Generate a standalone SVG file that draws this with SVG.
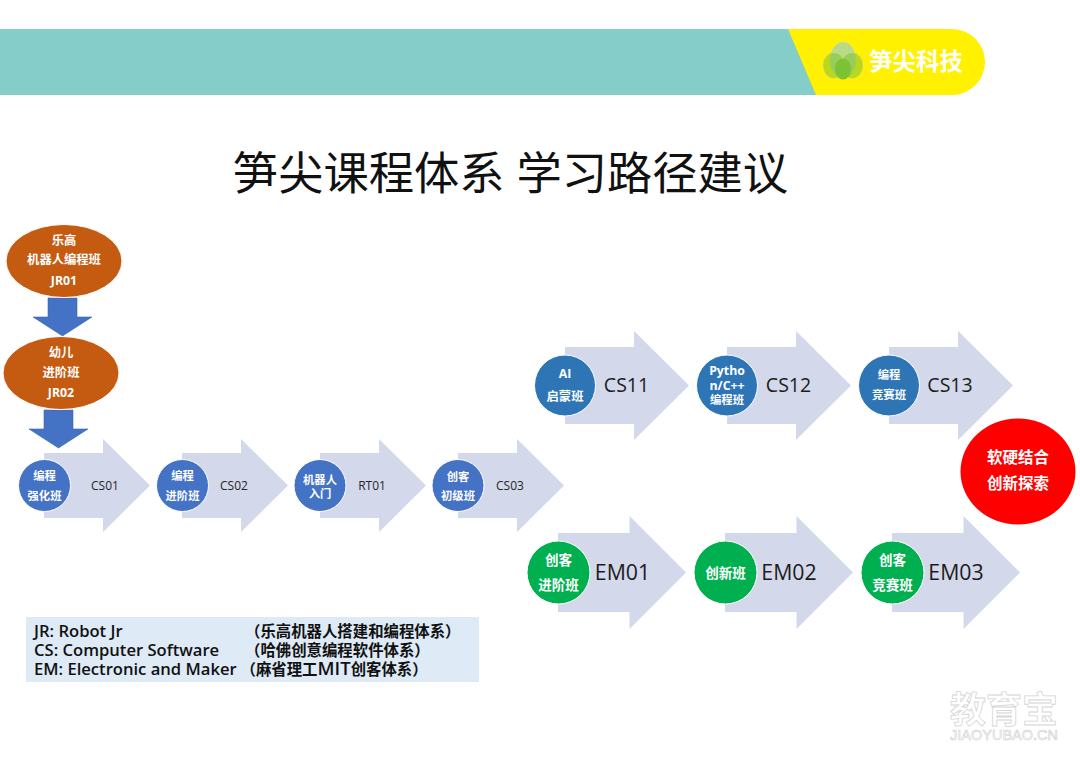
<svg xmlns="http://www.w3.org/2000/svg" width="1080" height="764" viewBox="0 0 1080 764">
<style>
text{font-family:"Open Sans","Noto Sans CJK SC",sans-serif;text-anchor:middle}
.w{fill:#fff;font-weight:700;font-size:12.3px}
.x{fill:#fff;font-weight:700;font-size:11.3px}
.g{fill:#fff;font-weight:700;font-size:13.5px}
.s{fill:#262626;font-size:12px}
.l{fill:#1c1c1c;font-size:19.500px}
.m{fill:#1c1c1c;font-size:21.300px}
.c{stroke:#fff;stroke-width:1}
.a{fill:#D3D8EB}
.r{fill:#fff;font-size:15.500px;font-weight:700}
.leg{fill:#111;font-size:16.600px;font-weight:600;text-anchor:start}
.lz{fill:#111;font-size:15.400px;font-weight:600;text-anchor:start}
</style>
<defs>
<path id="ah" class="a" d="M0-32.500H59V-46.500L106 0 59 46.500V32.500H0Z"/>
<path id="ab" class="a" d="M0-38.500H69V-54.500L124 0 69 54.500V38.500H0Z"/>
<path id="am" class="a" d="M0-39.500H71.500V-56.500L128 0 71.500 56.500V39.500H0Z"/>
<path id="dn" fill="#4472C4" stroke="#3A65B0" stroke-width=".6" d="M-14.500-19H14.500V0H29.500L0 19-29.500 0H-14.500Z"/>
</defs>
<g id="header">
<rect x="0" y="29" width="830" height="66" fill="#85CDC8"/>
<path d="M788 29H952A33 33 0 0 1 952 95H816Z" fill="#FFF100"/>
<ellipse cx="843" cy="60" rx="13" ry="18" fill="#B6DB8A" stroke="#E6D98A" stroke-width=".6"/>
<ellipse cx="834" cy="65.500" rx="11" ry="13" fill="#7CC232" fill-opacity=".55" stroke="#E6D98A" stroke-width=".6"/>
<ellipse cx="852" cy="65.500" rx="11" ry="13" fill="#7CC232" fill-opacity=".55" stroke="#E6D98A" stroke-width=".6"/>
<ellipse cx="843" cy="69" rx="8" ry="10.500" fill="#7CC232"/>
<text x="916" y="70" fill="#fff" style="font-size:23.500px;font-weight:700">笋尖科技</text>
</g>
<text id="title" x="510.500" y="190" fill="#111" style="font-size:45.300px">笋尖课程体系 学习路径建议</text>
<g id="connectors">
<use href="#dn" x="62.500" y="317"/>
<use href="#dn" x="58.500" y="429"/>
</g>
<g id="jr01"><ellipse class="c" cx="64" cy="261" rx="58" ry="36.500" fill="#C55A11"/>
<text class="w" x="64" y="244.500">乐高</text><text class="w" x="64" y="264">机器人编程班</text><text class="w" x="64" y="284.500">JR01</text></g>
<g id="jr02"><ellipse class="c" cx="61" cy="373" rx="58" ry="36.500" fill="#C55A11"/>
<text class="w" x="61" y="356.500">幼儿</text><text class="w" x="61" y="377">进阶班</text><text class="w" x="61" y="397">JR02</text></g>
<g id="cs01"><use href="#ah" x="44" y="485.500"/><circle class="c" cx="44.500" cy="485.500" r="26" fill="#4472C4"/>
<text class="x" x="44.500" y="480">编程</text><text class="x" x="44.500" y="500">强化班</text><text class="s" x="105" y="489.500">CS01</text></g>
<g id="cs02"><use href="#ah" x="182" y="485.500"/><circle class="c" cx="182.500" cy="485.500" r="26" fill="#4472C4"/>
<text class="x" x="182.500" y="480">编程</text><text class="x" x="182.500" y="500">进阶班</text><text class="s" x="234" y="489.500">CS02</text></g>
<g id="rt01"><use href="#ah" x="320" y="485.500"/><circle class="c" cx="320" cy="485.500" r="26" fill="#4472C4"/>
<text class="x" x="320" y="483.500">机器人</text><text class="x" x="320" y="497.500">入门</text><text class="s" x="372" y="489.500">RT01</text></g>
<g id="cs03"><use href="#ah" x="458" y="485.500"/><circle class="c" cx="458" cy="485.500" r="26" fill="#4472C4"/>
<text class="x" x="458" y="481">创客</text><text class="x" x="458" y="500">初级班</text><text class="s" x="510" y="489.500">CS03</text></g>
<g id="cs11"><use href="#ab" x="565" y="385.500"/><circle class="c" cx="565" cy="385.500" r="30.500" fill="#2E75B6"/>
<text class="w" x="565" y="378">AI</text><text class="w" x="565" y="401">启蒙班</text><text class="l" x="626.500" y="392">CS11</text></g>
<g id="cs12"><use href="#ab" x="727" y="385.500"/><circle class="c" cx="727" cy="385.500" r="30.500" fill="#2E75B6"/>
<text class="w" x="727" y="375">Pytho</text><text class="w" x="727" y="390">n/C++</text><text class="x" x="727" y="404">编程班</text><text class="l" x="788.500" y="392">CS12</text></g>
<g id="cs13"><use href="#ab" x="889" y="385.500"/><circle class="c" cx="889" cy="385.500" r="30.500" fill="#2E75B6"/>
<text class="x" x="889" y="379">编程</text><text class="x" x="889" y="399">竞赛班</text><text class="l" x="950" y="392">CS13</text></g>
<g id="em01"><use href="#am" x="558" y="572.500"/><circle class="c" cx="558.500" cy="572.500" r="31.500" fill="#00B050"/>
<text class="g" x="558.500" y="565">创客</text><text class="g" x="558.500" y="590">进阶班</text><text class="m" x="622.500" y="580">EM01</text></g>
<g id="em02"><use href="#am" x="725" y="572.500"/><circle class="c" cx="725.500" cy="572.500" r="31.500" fill="#00B050"/>
<text class="g" x="725.500" y="577.500">创新班</text><text class="m" x="789" y="580">EM02</text></g>
<g id="em03"><use href="#am" x="892" y="572.500"/><circle class="c" cx="892.500" cy="572.500" r="31.500" fill="#00B050"/>
<text class="g" x="892.500" y="565">创客</text><text class="g" x="892.500" y="590">竞赛班</text><text class="m" x="956" y="580">EM03</text></g>
<g id="goal"><ellipse cx="1018" cy="471.500" rx="57.500" ry="53" fill="#FF0000"/>
<text class="r" x="1018" y="463">软硬结合</text><text class="r" x="1018" y="489">创新探索</text></g>
<g id="legend"><rect x="26" y="617" width="453" height="65" fill="#DEEAF6"/>
<text class="leg" x="34" y="637">JR: Robot Jr</text><text class="lz" x="245" y="637">（乐高机器人搭建和编程体系）</text>
<text class="leg" x="34" y="656">CS: Computer Software</text><text class="lz" x="245" y="656">（哈佛创意编程软件体系）</text>
<text class="leg" x="34" y="675">EM: Electronic and Maker</text><text class="lz" x="240.500" y="675">（麻省理工<tspan font-size="18.500">MIT</tspan>创客体系）</text></g>
<g id="watermark"><text x="1004" y="723" fill="#fff" stroke="#D5D5D5" stroke-width=".8" style="font-size:36px;font-weight:700">教育宝</text>
<text x="1004" y="740" fill="#fff" stroke="#D0D0D0" stroke-width=".6" style="font-size:14.500px;font-family:'Liberation Sans',sans-serif">JIAOYUBAO.CN</text></g>
</svg>
